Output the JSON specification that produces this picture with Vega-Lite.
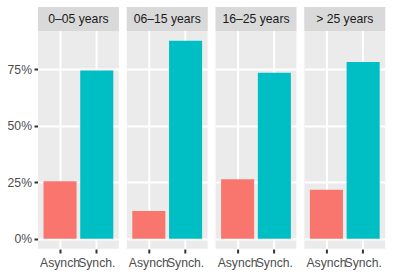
{
  "$schema": "https://vega.github.io/schema/vega-lite/v6.json",
  "padding": {"left": 7, "top": 7, "right": 5, "bottom": 5},
  "background": "white",
  "data": {
    "values": [
      {"group": "0–05 years", "type": "Asynch", "share": 0.255},
      {"group": "0–05 years", "type": "Synch.", "share": 0.745},
      {"group": "06–15 years", "type": "Asynch", "share": 0.123},
      {"group": "06–15 years", "type": "Synch.", "share": 0.877},
      {"group": "16–25 years", "type": "Asynch", "share": 0.264},
      {"group": "16–25 years", "type": "Synch.", "share": 0.736},
      {"group": "> 25 years", "type": "Asynch", "share": 0.217},
      {"group": "> 25 years", "type": "Synch.", "share": 0.783}
    ]
  },
  "facet": {
    "column": {
      "field": "group",
      "type": "nominal",
      "sort": ["0–05 years", "06–15 years", "16–25 years", "> 25 years"],
      "header": null
    }
  },
  "spacing": 7.8,
  "spec": {
    "width": 80.8,
    "height": 241.7,
    "layer": [
      {
        "mark": {"type": "bar"},
        "encoding": {
          "x": {
            "field": "type",
            "type": "nominal",
            "sort": ["Asynch", "Synch."],
            "title": null,
            "scale": {"paddingInner": 0.1, "paddingOuter": 0.15},
            "axis": {
              "bandPosition": 0.5,
              "domain": false,
              "grid": true,
              "gridColor": "white",
              "gridWidth": 2,
              "tickColor": "#333333",
              "tickSize": 4,
              "tickWidth": 2,
              "labelAngle": 0,
              "labelColor": "#4D4D4D",
              "labelFont": "Liberation Sans",
              "labelFontSize": 12.2,
              "labelPadding": 3,
              "labelOverlap": false,
              "labelBound": false
            }
          },
          "y": {
            "field": "share",
            "type": "quantitative",
            "title": null,
            "stack": null,
            "scale": {"domain": [-0.0443, 1.027], "nice": false, "zero": false},
            "axis": {
              "values": [0, 0.125, 0.25, 0.375, 0.5, 0.625, 0.75, 0.875],
              "format": ".0%",
              "labelExpr": "(datum.value * 8) % 2 == 0 ? datum.label : ''",
              "domain": false,
              "grid": true,
              "gridColor": "white",
              "gridWidth": {"condition": {"test": "(datum.value * 8) % 2 == 0", "value": 2}, "value": 1},
              "tickColor": "#333333",
              "tickSize": 4,
              "tickWidth": 2,
              "tickOpacity": {"condition": {"test": "(datum.value * 8) % 2 == 0", "value": 1}, "value": 0},
              "labelColor": "#4D4D4D",
              "labelFont": "Liberation Sans",
              "labelFontSize": 12.2,
              "labelPadding": 2.5,
              "labelOverlap": false
            }
          },
          "color": {
            "field": "type",
            "type": "nominal",
            "scale": {"domain": ["Asynch", "Synch."], "range": ["#F8766D", "#00BFC4"]},
            "legend": null
          }
        }
      },
      {
        "transform": [{"filter": "datum.type === 'Asynch'"}],
        "mark": {"type": "rect", "color": "#D9D9D9"},
        "encoding": {
          "y": {"datum": 0.921},
          "y2": {"datum": 1.027}
        }
      },
      {
        "transform": [{"filter": "datum.type === 'Asynch'"}],
        "mark": {"type": "text", "font": "Liberation Sans", "fontSize": 12.2, "color": "#1A1A1A", "baseline": "middle"},
        "encoding": {
          "text": {"field": "group"},
          "y": {"datum": 0.974}
        }
      }
    ]
  },
  "config": {
    "view": {"fill": "#EBEBEB", "stroke": null},
    "font": "Liberation Sans"
  }
}
